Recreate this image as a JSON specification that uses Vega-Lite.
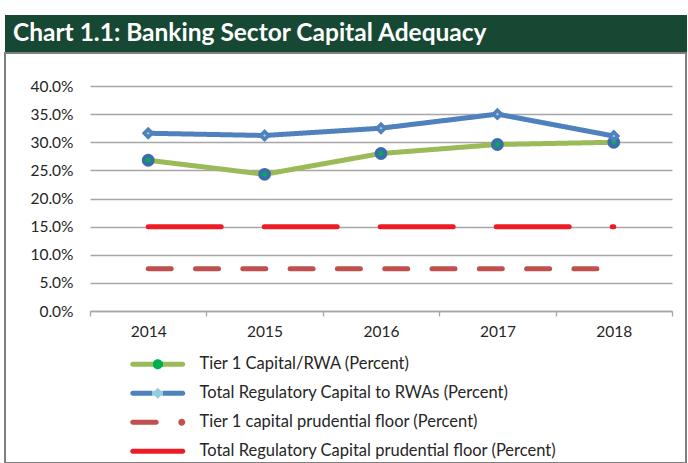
{
  "$schema": "https://vega.github.io/schema/vega-lite/v6.json",
  "padding": {"left": 4, "top": 15, "right": 0, "bottom": 0},
  "background": "white",
  "spacing": 0,
  "config": {"font": "Lato", "concat": {"spacing": 0}},
  "resolve": {"scale": {"shape": "independent"}, "legend": {"shape": "independent"}},
  "vconcat": [
    {
      "width": 682,
      "height": 37,
      "view": {"fill": "#174834", "stroke": null},
      "title": {
        "text": "Chart 1.1: Banking Sector Capital Adequacy",
        "anchor": "start",
        "orient": "bottom",
        "offset": -11,
        "dx": 8,
        "baseline": "alphabetic",
        "font": "Lato",
        "fontSize": 24.5,
        "fontWeight": "bold",
        "color": "#FFFFFF"
      },
      "data": {"values": []},
      "mark": "point"
    },
    {
      "width": 681,
      "height": 410,
      "view": {"stroke": "#7F7F7F", "strokeWidth": 2},
      "data": {
        "values": [
          {"year": 2014, "series": "Tier 1 Capital/RWA (Percent)", "value": 0.268},
          {"year": 2015, "series": "Tier 1 Capital/RWA (Percent)", "value": 0.243},
          {"year": 2016, "series": "Tier 1 Capital/RWA (Percent)", "value": 0.280},
          {"year": 2017, "series": "Tier 1 Capital/RWA (Percent)", "value": 0.296},
          {"year": 2018, "series": "Tier 1 Capital/RWA (Percent)", "value": 0.300},
          {"year": 2014, "series": "Total Regulatory Capital to RWAs (Percent)", "value": 0.316},
          {"year": 2015, "series": "Total Regulatory Capital to RWAs (Percent)", "value": 0.312},
          {"year": 2016, "series": "Total Regulatory Capital to RWAs (Percent)", "value": 0.325},
          {"year": 2017, "series": "Total Regulatory Capital to RWAs (Percent)", "value": 0.350},
          {"year": 2018, "series": "Total Regulatory Capital to RWAs (Percent)", "value": 0.311},
          {"year": 2014, "series": "Tier 1 capital prudential floor (Percent)", "value": 0.075},
          {"year": 2015, "series": "Tier 1 capital prudential floor (Percent)", "value": 0.075},
          {"year": 2016, "series": "Tier 1 capital prudential floor (Percent)", "value": 0.075},
          {"year": 2017, "series": "Tier 1 capital prudential floor (Percent)", "value": 0.075},
          {"year": 2018, "series": "Tier 1 capital prudential floor (Percent)", "value": 0.075},
          {"year": 2014, "series": "Total Regulatory Capital prudential floor (Percent)", "value": 0.15},
          {"year": 2015, "series": "Total Regulatory Capital prudential floor (Percent)", "value": 0.15},
          {"year": 2016, "series": "Total Regulatory Capital prudential floor (Percent)", "value": 0.15},
          {"year": 2017, "series": "Total Regulatory Capital prudential floor (Percent)", "value": 0.15},
          {"year": 2018, "series": "Total Regulatory Capital prudential floor (Percent)", "value": 0.15}
        ]
      },
      "encoding": {
        "x": {
          "field": "year",
          "type": "quantitative",
          "scale": {"domain": [2013.5, 2018.5], "range": [85, 667], "nice": false, "zero": false},
          "axis": {
            "orient": "bottom",
            "offset": -152,
            "values": [2013.5, 2014, 2014.5, 2015, 2015.5, 2016, 2016.5, 2017, 2017.5, 2018, 2018.5],
            "labelExpr": "datum.value % 1 === 0 ? format(datum.value, 'd') : ''",
            "tickOpacity": {"condition": {"test": "datum.value % 1 === 0", "value": 0}, "value": 1},
            "tickSize": 5,
            "tickColor": "#A6A6A6",
            "tickWidth": 1.3,
            "domainColor": "#A6A6A6",
            "domainWidth": 1.3,
            "grid": false,
            "title": null,
            "labelFont": "Lato",
            "labelFontSize": 15.5,
            "labelColor": "#262626",
            "labelPadding": 8,
            "labelOverlap": false,
            "labelFlush": false
          }
        },
        "y": {
          "field": "value",
          "type": "quantitative",
          "scale": {"domain": [0, 0.4], "range": [258, 33], "nice": false},
          "axis": {
            "orient": "left",
            "offset": -85,
            "values": [0, 0.05, 0.1, 0.15, 0.2, 0.25, 0.3, 0.35, 0.4],
            "format": ".1%",
            "domain": false,
            "ticks": false,
            "grid": true,
            "gridColor": "#A6A6A6",
            "gridWidth": 1.3,
            "labelPadding": 17,
            "title": null,
            "labelFont": "Lato",
            "labelFontSize": 15.5,
            "labelColor": "#262626"
          }
        }
      },
      "layer": [
        {
          "mark": {"type": "line", "strokeWidth": 5, "strokeCap": "round", "strokeJoin": "round"},
          "encoding": {
            "color": {
              "field": "series",
              "type": "nominal",
              "scale": {
                "domain": ["Tier 1 Capital/RWA (Percent)", "Total Regulatory Capital to RWAs (Percent)", "Tier 1 capital prudential floor (Percent)", "Total Regulatory Capital prudential floor (Percent)"],
                "range": ["#9BBB59", "#4F81BD", "#C0504D", "#ED1C24"]
              },
              "legend": null
            },
            "strokeDash": {
              "field": "series",
              "type": "nominal",
              "scale": {
                "domain": ["Tier 1 Capital/RWA (Percent)", "Total Regulatory Capital to RWAs (Percent)", "Tier 1 capital prudential floor (Percent)", "Total Regulatory Capital prudential floor (Percent)"],
                "range": [[1, 0], [1, 0], [23, 24.3], [73, 43]]
              },
              "legend": null
            }
          }
        },
        {
          "transform": [{"filter": "datum.series === 'Tier 1 Capital/RWA (Percent)'"}],
          "mark": {"type": "point", "shape": "circle", "filled": true, "fill": "#00B050", "stroke": "#3D6CAA", "strokeWidth": 4, "size": 78, "opacity": 1}
        },
        {
          "transform": [{"filter": "datum.series === 'Total Regulatory Capital to RWAs (Percent)'"}],
          "mark": {"type": "point", "shape": "diamond", "filled": true, "fill": "#93CDDD", "stroke": "#4F81BD", "strokeWidth": 3.5, "size": 64, "opacity": 1}
        },
        {
          "mark": {"type": "point", "filled": true, "opacity": 0},
          "encoding": {
            "shape": {
              "field": "series",
              "type": "nominal",
              "scale": {
                "domain": ["Tier 1 Capital/RWA (Percent)", "Total Regulatory Capital to RWAs (Percent)", "Tier 1 capital prudential floor (Percent)", "Total Regulatory Capital prudential floor (Percent)"],
                "range": [
                  "M-0.5,-0.5L9.5,-0.5A0.5,0.5 0 0 1 9.5,0.5L-0.5,0.5A0.5,0.5 0 0 1 -0.5,-0.5Z M3.5,0A1,1 0 1 1 5.5,0A1,1 0 1 1 3.5,0Z",
                  "M-0.5,-0.5L9.5,-0.5A0.5,0.5 0 0 1 9.5,0.5L-0.5,0.5A0.5,0.5 0 0 1 -0.5,-0.5Z M3.4,0L4.5,-1.1L5.6,0L4.5,1.1Z",
                  "M-0.5,-0.5L4.2,-0.5A0.5,0.5 0 0 1 4.2,0.5L-0.5,0.5A0.5,0.5 0 0 1 -0.5,-0.5Z M8.6,0A0.7,0.7 0 1 1 10,0A0.7,0.7 0 1 1 8.6,0Z",
                  "M-0.5,-0.5L9.5,-0.5A0.5,0.5 0 0 1 9.5,0.5L-0.5,0.5A0.5,0.5 0 0 1 -0.5,-0.5Z"
                ]
              },
              "legend": {
                "orient": "none",
                "legendX": 122,
                "legendY": 303,
                "title": null,
                "symbolSize": 100,
                "labelOffset": 56,
                "rowPadding": 12,
                "labelFont": "Lato",
                "labelFontSize": 16.5,
                "labelColor": "#262626",
                "labelLimit": 0,
                "symbolStrokeWidth": 0,
                "encoding": {
                  "symbols": {
                    "opacity": {"value": 1},
                    "stroke": {"value": "transparent"},
                    "fill": {"value": {"expr": "datum.value === 'Tier 1 Capital/RWA (Percent)' ? {gradient: 'linear', stops: [{offset: 0, color: '#9BBB59'}, {offset: 0.409, color: '#9BBB59'}, {offset: 0.409, color: '#00B050'}, {offset: 0.591, color: '#00B050'}, {offset: 0.591, color: '#9BBB59'}, {offset: 1, color: '#9BBB59'}]} : datum.value === 'Total Regulatory Capital to RWAs (Percent)' ? {gradient: 'linear', stops: [{offset: 0, color: '#4F81BD'}, {offset: 0.4, color: '#4F81BD'}, {offset: 0.4, color: '#93CDDD'}, {offset: 0.6, color: '#93CDDD'}, {offset: 0.6, color: '#4F81BD'}, {offset: 1, color: '#4F81BD'}]} : datum.value === 'Tier 1 capital prudential floor (Percent)' ? '#C0504D' : '#ED1C24'"}}
                  }
                }
              }
            }
          }
        }
      ]
    }
  ]
}
